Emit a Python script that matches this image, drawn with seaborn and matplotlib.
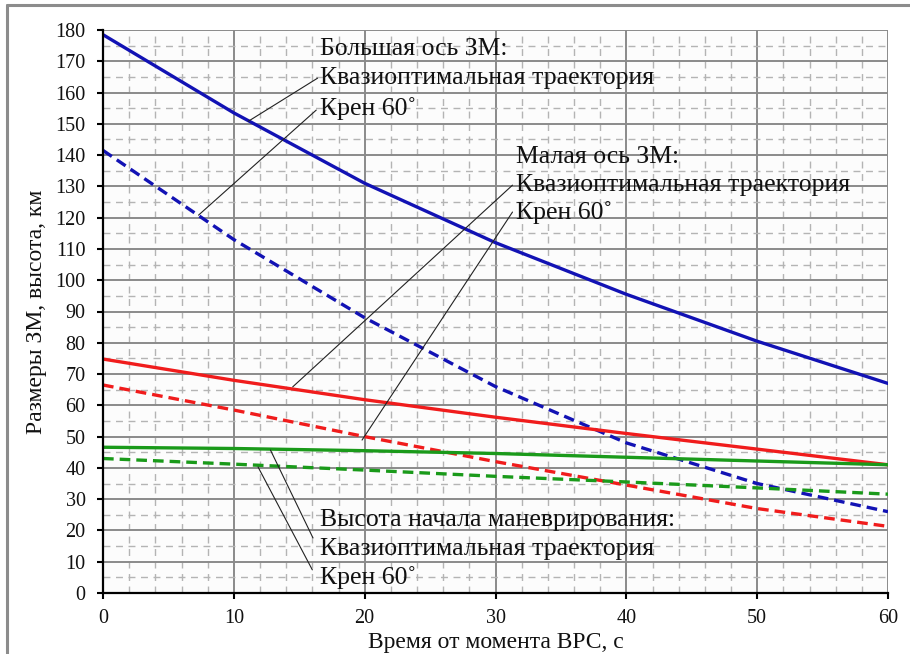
import numpy as np
import pandas as pd
import matplotlib
matplotlib.use("Agg")
import matplotlib.pyplot as plt
import seaborn as sns
from matplotlib.lines import Line2D

# ---- data ----
t = [0, 10, 20, 30, 40, 50, 60]
major_quasi = [178.5, 153.5, 131.0, 112.0, 95.5, 80.5, 67.0]
major_bank = [141.5, 113.0, 88.0, 66.0, 48.0, 35.0, 26.0]
minor_quasi = [74.8, 68.0, 61.8, 56.2, 51.0, 46.0, 41.0]
minor_bank = [66.5, 58.5, 50.0, 42.0, 34.5, 27.0, 21.3]
alt_quasi = [46.6, 46.2, 45.5, 44.6, 43.4, 42.2, 41.0]
alt_bank = [43.0, 41.2, 39.3, 37.3, 35.5, 33.6, 31.6]

xlabel = "Время от момента ВРС, с"
ylabel = "Размеры ЗМ, высота, км"

sns.set_theme(style="white")
plt.rcParams["font.family"] = ["Liberation Serif", "DejaVu Serif"]

fig = plt.figure(figsize=(9.10, 6.54), dpi=100)
ax = fig.add_axes([103 / 910, 1 - 593 / 654, 785 / 910, 563 / 654])
ax.set_facecolor("#fcfcfc")

series = [
    (major_quasi, "#1212b4", "-"),
    (major_bank, "#1212b4", "--"),
    (minor_quasi, "#f01c1c", "-"),
    (minor_bank, "#f01c1c", "--"),
    (alt_quasi, "#1a9a1a", "-"),
    (alt_bank, "#1a9a1a", "--"),
]
for vals, col, ls in series:
    df = pd.DataFrame({"t": t, "v": vals})
    sns.lineplot(data=df, x="t", y="v", ax=ax, color=col, lw=2.4, zorder=5)
    l = ax.lines[-1]
    if ls == "--":
        l.set_dashes([3.2, 1.8])

ax.set_xlim(0, 60)
ax.set_ylim(0, 180)
ax.set_xticks(np.arange(0, 61, 10))
ax.set_yticks(np.arange(0, 181, 10))
ax.set_xticks(np.arange(0, 61, 2), minor=True)
ax.set_yticks(np.arange(0, 181, 5), minor=True)
ax.grid(which="major", color="#8a8a8a", lw=1.4, zorder=1)
ax.grid(which="minor", color="#b4b4b4", lw=1.0, linestyle=(0, (5, 4)), zorder=0)
ax.set_axisbelow(True)

for s in ["top", "right"]:
    ax.spines[s].set_visible(False)
for s in ["left", "bottom"]:
    ax.spines[s].set_color("black")
    ax.spines[s].set_linewidth(1.6)
    ax.spines[s].set_zorder(6)

ax.tick_params(which="major", direction="out", length=4.5, width=1.5, color="black",
               labelsize=14.5, labelcolor="#111111", bottom=True, left=True)
ax.tick_params(axis="y", which="major", pad=8)
ax.tick_params(axis="x", which="major", pad=7)
ax.tick_params(which="minor", length=0)
ax.set_xlabel(xlabel, fontsize=17, color="#111111", labelpad=3)
ax.set_ylabel(ylabel, fontsize=17, color="#111111", labelpad=6)

fs = 18.5
def note(txt, x, y):
    ax.text(x, y, txt, fontsize=fs, va="center", ha="left", color="#111111", zorder=7)

def leader(x0, y0, x1, y1):
    ax.plot([x0, x1], [y0, y1], color="#222222", lw=0.8, zorder=6)

note("Большая ось ЗМ:", 16.6, 174.0)
note("Квазиоптимальная траектория", 16.6, 164.6)
note("Крен 60˚", 16.6, 154.8)
leader(11.1, 150.8, 16.4, 164.6)
leader(7.3, 120.8, 16.3, 154.4)

note("Малая ось ЗМ:", 31.6, 139.4)
note("Квазиоптимальная траектория", 31.6, 130.4)
note("Крен 60˚", 31.6, 121.5)
leader(14.5, 65.9, 31.3, 130.4)
leader(19.8, 48.9, 31.3, 121.8)

note("Высота начала маневрирования:", 16.6, 23.3)
note("Квазиоптимальная траектория", 16.6, 14.0)
note("Крен 60˚", 16.6, 4.9)
leader(12.8, 45.7, 16.05, 17.6)
leader(11.85, 40.3, 16.0, 7.4)

# chart-area border (top and left visible)
fig.add_artist(Line2D([7 / 910, 7 / 910], [0, 1 - 5 / 654], transform=fig.transFigure,
                      color="#8c8c8c", lw=2.2))
fig.add_artist(Line2D([7 / 910, 1.0], [1 - 5 / 654, 1 - 5 / 654], transform=fig.transFigure,
                      color="#8c8c8c", lw=2.2))

fig.savefig("out.png", dpi=100)
